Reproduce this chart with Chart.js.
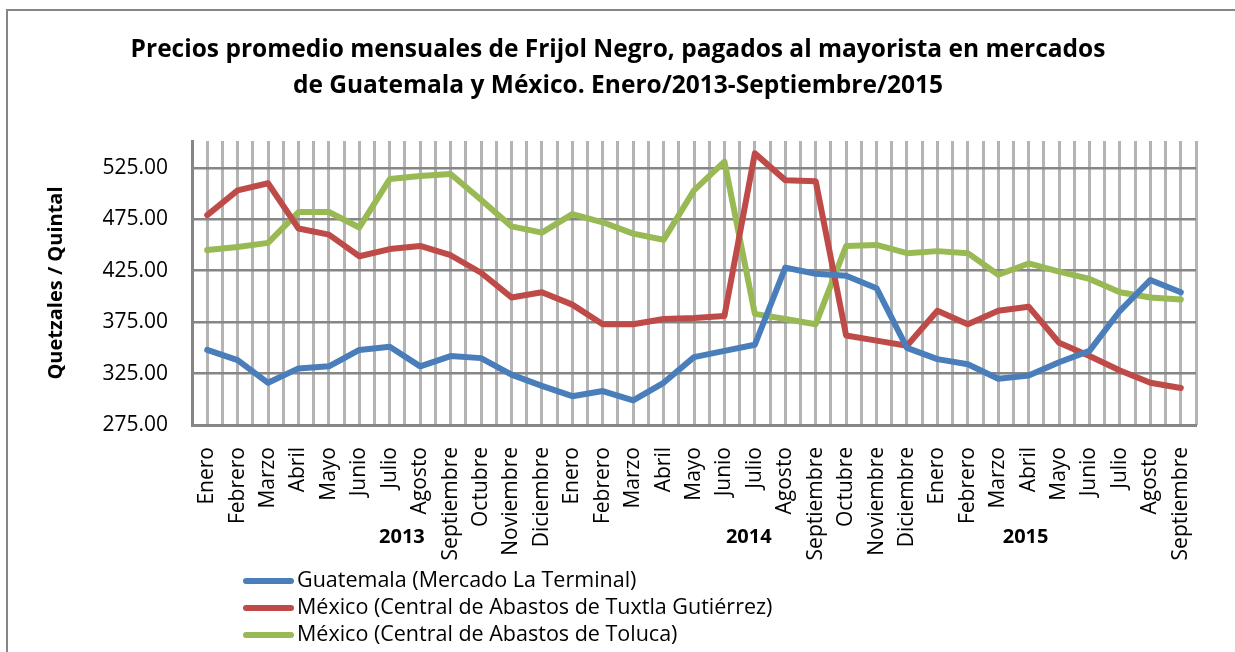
<!DOCTYPE html>
<html>
<head>
<meta charset="utf-8">
<script src="https://cdn.jsdelivr.net/npm/chart.js@4.4.1/dist/chart.umd.min.js"></script>
<style>
  html, body { margin: 0; padding: 0; background: #fff; }
  #wrap { width: 1235px; height: 652px; position: relative; }
</style>
</head>
<body>
<div id="wrap"><canvas id="chart"></canvas></div>
<script>
const meses = ['Enero', 'Febrero', 'Marzo', 'Abril', 'Mayo', 'Junio', 'Julio', 'Agosto',
  'Septiembre', 'Octubre', 'Noviembre', 'Diciembre'];
const months = [...meses, ...meses, ...meses.slice(0, 9)];
const years = ['2013', '2014', '2015'];

const guatemala = [348, 338, 316, 330, 332, 348, 351, 332, 342, 340, 324, 313,
  303, 308, 299, 316, 341, 347, 353, 428, 422, 420, 408,
  350, 339, 334, 320, 323, 336, 347, 386, 416, 404];
const tuxtla = [479, 503, 510, 466, 460, 439, 446, 449, 440, 423, 399, 404,
  392, 373, 373, 378, 379, 381, 539, 513, 512, 362, 357,
  352, 386, 373, 386, 390, 355, 342, 328, 316, 311];
const toluca = [445, 448, 452, 482, 482, 467, 514, 517, 519, 494, 468, 462,
  480, 472, 461, 455, 503, 531, 383, 378, 373, 449, 450,
  442, 444, 442, 421, 432, 424, 417, 404, 399, 397];

const yTicks = [275, 325, 375, 425, 475, 525];

const seriesNames = ['Guatemala (Mercado La Terminal)',
  'México (Central de Abastos de Tuxtla Gutiérrez)',
  'México (Central de Abastos de Toluca)'];
const colors = ['#4a7ebb', '#be4b48', '#98b954'];

// where the year labels sit, in category units
const yearAt = [6.4, 17.8, 26.9];

const FONT = "'Open Sans'";

const extras = {
  id: 'extras',
  beforeDraw(chart) {
    const ctx = chart.ctx;
    ctx.save();
    ctx.strokeStyle = '#868686';
    ctx.lineWidth = 2;
    ctx.strokeRect(7, 10, 1260, 680);
    ctx.restore();
  },
  afterDraw(chart) {
    const ctx = chart.ctx;
    const xg = chart.scales.xg;
    ctx.save();
    ctx.fillStyle = '#000';
    ctx.font = 'bold 20px ' + FONT;
    ctx.textAlign = 'center';
    ctx.textBaseline = 'middle';
    years.forEach((y, i) => ctx.fillText(y, xg.getPixelForValue(yearAt[i]), 537));

    ctx.font = '21.5px ' + FONT;
    ctx.textAlign = 'left';
    ctx.lineCap = 'round';
    ctx.lineWidth = 6;
    seriesNames.forEach((name, i) => {
      const y = 581 + i * 27;
      ctx.strokeStyle = colors[i];
      ctx.beginPath();
      ctx.moveTo(246, y);
      ctx.lineTo(291, y);
      ctx.stroke();
      ctx.fillText(name, 297, y);
    });
    ctx.restore();
  }
};

const mk = (label, data, color) => ({
  label: label,
  data: data,
  borderColor: color,
  backgroundColor: color,
  borderWidth: 6,
  pointRadius: 0,
  borderJoinStyle: 'round',
  borderCapStyle: 'round',
  tension: 0
});

new Chart(document.getElementById('chart'), {
  type: 'line',
  data: {
    labels: months,
    datasets: [
      mk(seriesNames[0], guatemala, colors[0]),
      mk(seriesNames[1], tuxtla, colors[1]),
      mk(seriesNames[2], toluca, colors[2])
    ]
  },
  options: {
    responsive: true,
    maintainAspectRatio: false,
    animation: false,
    layout: { padding: { left: 40, right: 39, bottom: 0 } },
    plugins: {
      legend: { display: false },
      tooltip: { enabled: false },
      title: {
        display: true,
        text: ['Precios promedio mensuales de Frijol Negro, pagados al mayorista en mercados',
          'de Guatemala y México. Enero/2013-Septiembre/2015'],
        color: '#000',
        font: { family: FONT, size: 24.5, weight: 'bold', lineHeight: 1.47 },
        padding: { top: 32, bottom: 37 }
      }
    },
    scales: {
      x: {
        type: 'category',
        offset: true,
        grid: { display: false },
        border: { display: true, color: '#868686', width: 3 },
        ticks: {
          color: '#000',
          font: { family: FONT, size: 21 },
          maxRotation: 90,
          minRotation: 90,
          autoSkip: false,
          padding: 14
        },
        afterFit: s => { s.height = 227; }
      },
      xg: {
        type: 'linear',
        position: 'bottom',
        min: -0.5,
        max: months.length - 0.5,
        afterBuildTicks: s => {
          const t = [];
          for (let i = 0; i < months.length; i++) t.push({ value: i - 0.5 }, { value: i });
          t.push({ value: months.length - 0.5 });
          s.ticks = t;
        },
        ticks: { display: false },
        grid: { color: '#b4b4b4', lineWidth: 3, drawTicks: false },
        border: { display: false },
        afterFit: s => { s.height = 0; }
      },
      y: {
        min: 275,
        max: 551,
        afterBuildTicks: s => { s.ticks = yTicks.map(v => ({ value: v })); },
        grid: { color: '#868686', lineWidth: 2.5, drawTicks: false },
        border: { display: true, color: '#868686', width: 3 },
        ticks: {
          color: '#000',
          font: { family: FONT, size: 21 },
          padding: 24,
          callback: v => v.toFixed(2)
        },
        title: {
          display: true,
          text: 'Quetzales / Quintal',
          color: '#000',
          font: { family: FONT, size: 20, weight: 'bold' },
          padding: { top: 4, bottom: 0 }
        },
        afterFit: s => { s.width = 152; }
      }
    }
  },
  plugins: [extras]
});
</script>
</body>
</html>
